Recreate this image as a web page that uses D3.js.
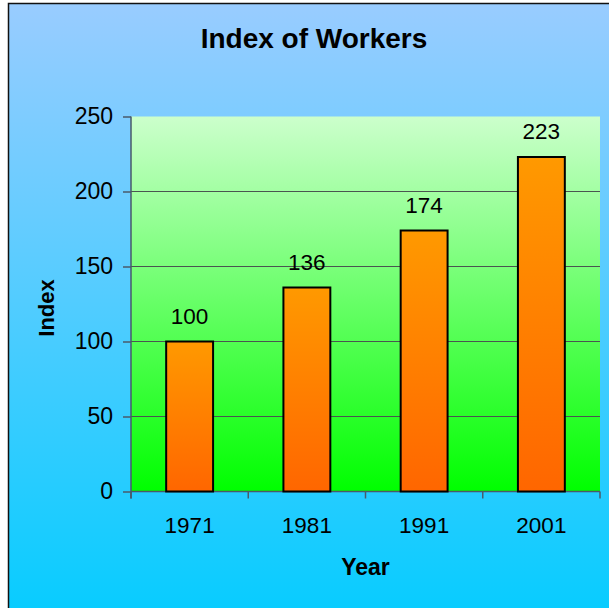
<!DOCTYPE html>
<html>
<head>
<meta charset="utf-8">
<script src="https://cdn.jsdelivr.net/npm/d3@7"></script>
<style>
  html, body { margin: 0; padding: 0; background: #fff; }
  svg { display: block; font-family: "Liberation Sans", Arial, sans-serif; }
</style>
</head>
<body>
<div class="chart"></div>
<script>
// chart data
const years = ["1971", "1981", "1991", "2001"];
const indexValues = [100, 136, 174, 223];
const yTicks = [0, 50, 100, 150, 200, 250];

const width = 609, height = 608;
const margin = { left: 131, right: 9, top: 116.5, bottom: 116.5 };

const svg = d3.select(".chart").append("svg")
  .attr("width", width).attr("height", height);

const defs = svg.append("defs");
function grad(id, c1, c2) {
  let g = defs.append("linearGradient").attr("id", id)
    .attr("x1", 0).attr("y1", 0).attr("x2", 0).attr("y2", 1);
  g.append("stop").attr("offset", "0%").attr("stop-color", c1);
  g.append("stop").attr("offset", "100%").attr("stop-color", c2);
}
grad("bgGrad", "#99ccff", "#00ccff");
grad("plotGrad", "#ccffcc", "#00ff00");
grad("barGrad", "#ff9900", "#ff6600");

// outer chart area
svg.append("rect")
  .attr("x", 8.5).attr("y", 3.5)
  .attr("width", 640).attr("height", 640)
  .attr("fill", "url(#bgGrad)")
  .attr("stroke", "#111").attr("stroke-width", 1.5);

let x = d3.scaleBand()
  .domain(years)
  .range([margin.left, width - margin.right])
  .paddingInner(0.6).paddingOuter(0.3);

let xCat = d3.scaleBand()
  .domain(years)
  .range([margin.left, width - margin.right]);

let y = d3.scaleLinear()
  .domain([0, 250])
  .range([height - margin.bottom, margin.top]);

// plot area
svg.append("rect")
  .attr("x", margin.left).attr("y", y(250))
  .attr("width", width - margin.right - margin.left)
  .attr("height", y(0) - y(250))
  .attr("fill", "url(#plotGrad)");

// gridlines
svg.append("g").selectAll("line")
  .data(yTicks.filter(d => d > 0 && d < 250))
  .join("line")
  .attr("x1", margin.left).attr("x2", width - margin.right)
  .attr("y1", d => y(d)).attr("y2", d => y(d))
  .attr("stroke", "#4a5550").attr("stroke-width", 1);

// y axis
let yAxis = d3.axisLeft(y).tickValues(yTicks).tickSize(8).tickPadding(10).tickSizeOuter(0);
let yG = svg.append("g")
  .attr("transform", `translate(${margin.left},0)`)
  .call(yAxis);
yG.select(".domain").attr("stroke", "#4a5a6a").attr("stroke-width", 1.5)
  .attr("d", `M0,${y(250)}V${y(0) + 7}`);
yG.selectAll(".tick line").attr("stroke", "#4a5a6a").attr("stroke-width", 1.5);
yG.selectAll(".tick text")
  .attr("font-size", 23).attr("fill", "#000")
  .attr("font-family", "Liberation Sans, Arial, sans-serif");

// x axis with ticks at category boundaries
let xAxisG = svg.append("g");
xAxisG.append("line")
  .attr("x1", margin.left).attr("x2", width - margin.right)
  .attr("y1", y(0)).attr("y2", y(0))
  .attr("stroke", "#4a5a6a").attr("stroke-width", 1.5);
let bounds = years.map(d => xCat(d)).concat([width - margin.right]);
xAxisG.selectAll(".xtick").data(bounds).join("line")
  .attr("x1", d => d).attr("x2", d => d)
  .attr("y1", y(0)).attr("y2", y(0) + 7)
  .attr("stroke", "#4a5a6a").attr("stroke-width", 1.5);
xAxisG.selectAll("text").data(years).join("text")
  .attr("x", d => xCat(d) + xCat.bandwidth() / 2)
  .attr("y", y(0) + 41)
  .attr("text-anchor", "middle")
  .attr("font-size", 22.5)
  .text(d => d);

// bars
svg.append("g").selectAll("rect")
  .data(years)
  .join("rect")
  .attr("x", d => x(d))
  .attr("y", (d, i) => y(indexValues[i]))
  .attr("width", x.bandwidth())
  .attr("height", (d, i) => y(0) - y(indexValues[i]))
  .attr("fill", "url(#barGrad)")
  .attr("stroke", "#000").attr("stroke-width", 2);

// value labels
svg.append("g").selectAll("text")
  .data(years)
  .join("text")
  .attr("x", d => x(d) + x.bandwidth() / 2)
  .attr("y", (d, i) => y(indexValues[i]) - 18)
  .attr("text-anchor", "middle")
  .attr("font-size", 22.5)
  .text((d, i) => indexValues[i]);

// titles
svg.append("text")
  .attr("x", 314).attr("y", 48)
  .attr("text-anchor", "middle")
  .attr("font-size", 28).attr("font-weight", "bold")
  .text("Index of Workers");

svg.append("text")
  .attr("x", (margin.left + width - margin.right) / 2).attr("y", 575)
  .attr("text-anchor", "middle")
  .attr("font-size", 23).attr("font-weight", "bold")
  .text("Year");

svg.append("text")
  .attr("transform", "translate(54,308) rotate(-90)")
  .attr("text-anchor", "middle")
  .attr("font-size", 22).attr("font-weight", "bold")
  .text("Index");
</script>
</body>
</html>
